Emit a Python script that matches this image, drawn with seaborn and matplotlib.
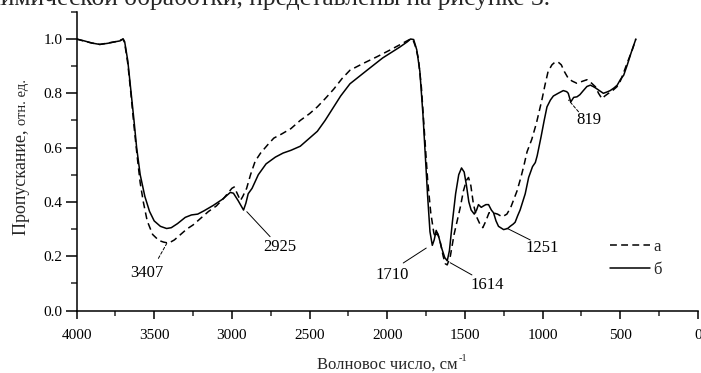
import matplotlib
matplotlib.use("Agg")
import matplotlib.pyplot as plt
from matplotlib.ticker import MultipleLocator, FixedLocator
from matplotlib.lines import Line2D
import pandas as pd
import seaborn as sns

# IR transmission spectra, relative units
# sample "а" (dashed)
wn_a = [4000, 3950, 3900, 3850, 3800, 3750, 3720, 3700, 3690, 3670, 3650, 3630,
        3610, 3590, 3570, 3545, 3510, 3470, 3440, 3407, 3370, 3330, 3290, 3250,
        3200, 3150, 3100, 3050, 3000, 2985, 2965, 2945, 2930, 2905, 2880, 2850,
        2815, 2770, 2730, 2680, 2620, 2560, 2500, 2450, 2400, 2345, 2290, 2240,
        2155, 2065, 1980, 1915, 1870, 1850, 1835, 1820, 1800, 1780, 1760, 1740,
        1720, 1700, 1690, 1677, 1660, 1640, 1626, 1614, 1594, 1570, 1548, 1530,
        1510, 1490, 1477, 1462, 1445, 1425, 1405, 1385, 1365, 1345, 1320, 1290,
        1260, 1230, 1205, 1185, 1165, 1140, 1120, 1100, 1070, 1040, 1005, 985,
        965, 940, 920, 900, 880, 860, 835, 810, 780, 750, 715, 690, 660, 640,
        618, 600, 576, 550, 522, 500, 480, 460, 440, 420, 400]
t_a = [1.000, 0.992, 0.985, 0.980, 0.985, 0.990, 0.995, 1.000, 0.985, 0.910,
       0.800, 0.680, 0.570, 0.470, 0.400, 0.330, 0.280, 0.258, 0.252, 0.248,
       0.260, 0.280, 0.300, 0.315, 0.340, 0.365, 0.385, 0.415, 0.450, 0.455,
       0.430, 0.405, 0.420, 0.450, 0.500, 0.550, 0.580, 0.610, 0.635, 0.650,
       0.670, 0.700, 0.725, 0.750, 0.780, 0.815, 0.855, 0.885, 0.910, 0.935,
       0.960, 0.980, 0.994, 1.000, 0.998, 0.975, 0.930, 0.820, 0.650, 0.480,
       0.360, 0.285, 0.270, 0.285, 0.255, 0.200, 0.172, 0.168, 0.200, 0.280,
       0.335, 0.380, 0.440, 0.480, 0.490, 0.460, 0.390, 0.345, 0.320, 0.305,
       0.330, 0.360, 0.360, 0.355, 0.345, 0.355, 0.380, 0.410, 0.440, 0.490,
       0.535, 0.585, 0.630, 0.690, 0.775, 0.830, 0.880, 0.905, 0.915, 0.915,
       0.905, 0.880, 0.855, 0.845, 0.837, 0.843, 0.850, 0.840, 0.824, 0.800,
       0.780, 0.790, 0.800, 0.810, 0.824, 0.845, 0.874, 0.905, 0.935, 0.965,
       1.000]

# sample "б" (solid)
wn_b = [4000, 3950, 3900, 3850, 3800, 3750, 3720, 3700, 3690, 3670, 3650, 3630,
        3613, 3590, 3560, 3530, 3500, 3460, 3420, 3390, 3350, 3300, 3260, 3220,
        3180, 3120, 3060, 3010, 2990, 2960, 2925, 2910, 2895, 2870, 2830, 2780,
        2720, 2670, 2620, 2560, 2500, 2450, 2400, 2350, 2300, 2240, 2130, 2030,
        1920, 1870, 1850, 1830, 1810, 1790, 1770, 1755, 1740, 1725, 1710, 1698,
        1685, 1670, 1650, 1630, 1614, 1600, 1580, 1560, 1540, 1522, 1505, 1490,
        1475, 1460, 1440, 1425, 1413, 1395, 1381, 1365, 1348, 1330, 1316, 1300,
        1284, 1251, 1225, 1209, 1190, 1177, 1160, 1145, 1112, 1090, 1065, 1047,
        1035, 1010, 990, 972, 950, 931, 900, 867, 845, 835, 819, 800, 779, 760,
        738, 715, 693, 675, 660, 635, 609, 585, 565, 540, 520, 500, 478, 455,
        430, 400]
t_b = [1.000, 0.993, 0.985, 0.980, 0.984, 0.990, 0.993, 1.000, 0.990, 0.920,
       0.810, 0.700, 0.600, 0.500, 0.420, 0.365, 0.330, 0.310, 0.302, 0.305,
       0.320, 0.343, 0.352, 0.355, 0.367, 0.387, 0.410, 0.435, 0.432, 0.405,
       0.370, 0.395, 0.430, 0.450, 0.500, 0.540, 0.565, 0.580, 0.590, 0.605,
       0.635, 0.660, 0.700, 0.745, 0.790, 0.835, 0.885, 0.930, 0.970, 0.990,
       1.000, 0.998, 0.960, 0.880, 0.720, 0.570, 0.420, 0.290, 0.240, 0.260,
       0.295, 0.275, 0.230, 0.195, 0.183, 0.220, 0.330, 0.430, 0.500, 0.525,
       0.510, 0.460, 0.400, 0.370, 0.355, 0.370, 0.390, 0.380, 0.385, 0.390,
       0.390, 0.370, 0.360, 0.330, 0.310, 0.298, 0.302, 0.310, 0.318, 0.325,
       0.350, 0.370, 0.430, 0.490, 0.530, 0.545, 0.570, 0.640, 0.700, 0.750,
       0.775, 0.790, 0.800, 0.810, 0.806, 0.800, 0.768, 0.785, 0.787, 0.795,
       0.810, 0.825, 0.830, 0.825, 0.820, 0.810, 0.800, 0.805, 0.810, 0.820,
       0.830, 0.850, 0.867, 0.905, 0.950, 1.000]

series_names = ["а", "б"]

# band assignments: label text, text centre, leader line start/end, dashed leader
peak_labels = ["3407", "2925", "1710", "1614", "1251", "819"]
label_pos = [(3548, 0.137), (2690, 0.235), (1970, 0.131), (1359, 0.094),
             (1004, 0.229), (700, 0.700)]
leader_start = [(3473, 0.192), (2754, 0.272), (1897, 0.175), (1455, 0.131),
                (1080, 0.260), (769, 0.732)]
leader_end = [(3419, 0.247), (2904, 0.364), (1749, 0.230), (1595, 0.176),
              (1230, 0.303), (833, 0.775)]
leader_dashed = [True, False, False, False, False, True]

df = pd.concat([
    pd.DataFrame({"wn": wn_a, "T": t_a, "sample": series_names[0]}),
    pd.DataFrame({"wn": wn_b, "T": t_b, "sample": series_names[1]}),
], ignore_index=True)

sns.set_style("ticks")
plt.rcParams["font.family"] = ["Liberation Serif", "DejaVu Serif"]

W, H = 701, 373
fig = plt.figure(figsize=(W / 100, H / 100), dpi=100)
x0, x1 = 76.5, 698.0
y0 = 310.5
ppu = 271.5
ax = fig.add_axes([x0 / W, (H - y0) / H, (x1 - x0) / W, 1.1 * ppu / H])

dash_a = (4.5, 2.8)
sns.lineplot(data=df, x="wn", y="T", style="sample", color="black",
             dashes={series_names[0]: dash_a, series_names[1]: ""},
             estimator=None, sort=False, linewidth=1.1, legend=False, ax=ax)

ax.set_xlim(4000, 0)
ax.set_ylim(0, 1.1)
ax.set_xlabel("")
ax.set_ylabel("")

for s in ["top", "right"]:
    ax.spines[s].set_visible(False)
for s in ["left", "bottom"]:
    ax.spines[s].set_linewidth(1.1)
    ax.spines[s].set_color("black")

ax.xaxis.set_major_locator(MultipleLocator(500))
ax.xaxis.set_minor_locator(MultipleLocator(250))
ax.yaxis.set_major_locator(FixedLocator([0.0, 0.2, 0.4, 0.6, 0.8, 1.0]))
ax.yaxis.set_minor_locator(FixedLocator([0.1, 0.3, 0.5, 0.7, 0.9, 1.1]))
ax.yaxis.set_major_formatter(plt.FuncFormatter(lambda v, p: f"{v:.1f}"))

ax.tick_params(axis="x", which="major", direction="out", length=6, width=1.1,
               pad=7.5, labelsize=11, colors="black")
ax.tick_params(axis="x", which="minor", direction="out", length=3.5, width=1.1)
ax.tick_params(axis="y", which="major", direction="out", length=8, width=1.1,
               pad=2, labelsize=11, colors="black")
ax.tick_params(axis="y", which="minor", direction="out", length=4, width=1.1)

# band labels with leader lines
for lab, pos, p0, p1, dsh in zip(peak_labels, label_pos, leader_start,
                                 leader_end, leader_dashed):
    ax.text(pos[0], pos[1], lab, ha="center", va="center", fontsize=12,
            color="black")
    ax.annotate("", xy=p1, xytext=p0,
                arrowprops=dict(arrowstyle="-", color="black", lw=0.7,
                                linestyle=(0, (3, 2)) if dsh else "-",
                                shrinkA=0, shrinkB=0))

handles = [Line2D([], [], color="black", lw=1.1, dashes=dash_a),
           Line2D([], [], color="black", lw=1.1)]
ax.legend(handles, series_names, loc="upper left",
          bbox_to_anchor=((610 - x0) / (x1 - x0), (y0 - 239) / (1.1 * ppu)),
          frameon=False, borderaxespad=0, borderpad=0, handlelength=2.4,
          handletextpad=0.2, labelspacing=0.4, fontsize=12)

# axis titles
fig.text(387 / W, 1 - 369 / H, "Волновос число, см", ha="center",
         va="baseline", fontsize=12)
ylab = fig.text(26 / W, 1 - 235 / H, "Пропускание, ", rotation=90,
                rotation_mode="anchor", ha="left", va="baseline", fontsize=13)

# running text of the page above the figure
fig.text(-12 / W, 1 - 5 / H, "химической обработки, представлены на рисунке 3.",
         ha="left", va="baseline", fontsize=18.4)

fig.canvas.draw()
r = fig.canvas.get_renderer()
xl = [t for t in fig.texts if t.get_text().startswith("Волновос")][0]
bb = xl.get_window_extent(r)
fig.text((bb.x1 + 1) / W, (bb.y0 + 12) / H, "-1", ha="left", va="baseline",
         fontsize=7.5)
bb = ylab.get_window_extent(r)
fig.text(26 / W, (bb.y1) / H, "отн. ед.", rotation=90, rotation_mode="anchor",
         ha="left", va="baseline", fontsize=10.5)

fig.savefig("out.png", dpi=100)
